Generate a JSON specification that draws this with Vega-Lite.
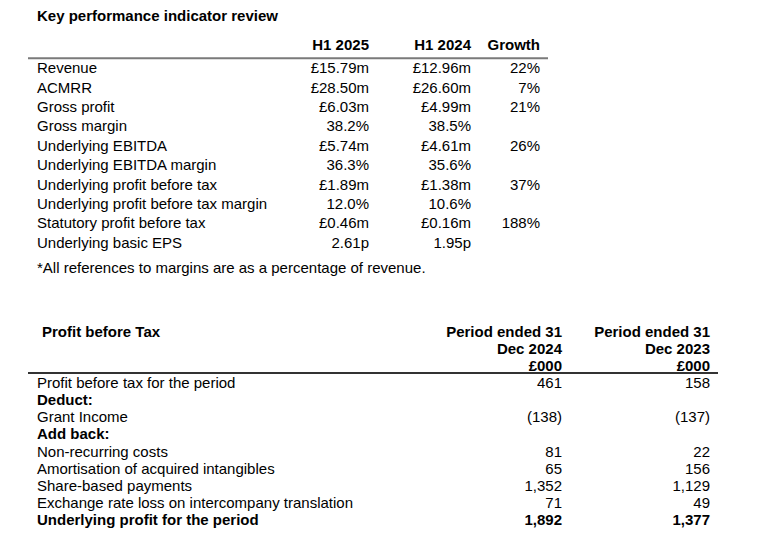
{
  "$schema": "https://vega.github.io/schema/vega-lite/v6.json",
  "padding": 0,
  "spacing": 0,
  "background": "white",
  "config": {"view": {"stroke": null}, "text": {"font": "Liberation Sans", "fontSize": 15, "color": "#000000", "baseline": "middle"}},
  "datasets": {
    "kpi": [
      {"r": -1, "kind": "title", "label": "Key performance indicator review", "h25": "", "h24": "", "growth": ""},
      {"r": 0, "kind": "header", "label": "", "h25": "H1 2025", "h24": "H1 2024", "growth": "Growth"},
      {"r": 1, "kind": "body", "label": "Revenue", "h25": "£15.79m", "h24": "£12.96m", "growth": "22%"},
      {"r": 2, "kind": "body", "label": "ACMRR", "h25": "£28.50m", "h24": "£26.60m", "growth": "7%"},
      {"r": 3, "kind": "body", "label": "Gross profit", "h25": "£6.03m", "h24": "£4.99m", "growth": "21%"},
      {"r": 4, "kind": "body", "label": "Gross margin", "h25": "38.2%", "h24": "38.5%", "growth": ""},
      {"r": 5, "kind": "body", "label": "Underlying EBITDA", "h25": "£5.74m", "h24": "£4.61m", "growth": "26%"},
      {"r": 6, "kind": "body", "label": "Underlying EBITDA margin", "h25": "36.3%", "h24": "35.6%", "growth": ""},
      {"r": 7, "kind": "body", "label": "Underlying profit before tax", "h25": "£1.89m", "h24": "£1.38m", "growth": "37%"},
      {"r": 8, "kind": "body", "label": "Underlying profit before tax margin", "h25": "12.0%", "h24": "10.6%", "growth": ""},
      {"r": 9, "kind": "body", "label": "Statutory profit before tax", "h25": "£0.46m", "h24": "£0.16m", "growth": "188%"},
      {"r": 10, "kind": "body", "label": "Underlying basic EPS", "h25": "2.61p", "h24": "1.95p", "growth": ""},
      {"r": 11, "kind": "note", "label": "*All references to margins are as a percentage of revenue.", "h25": "", "h24": "", "growth": ""}
    ],
    "pbt": [
      {"k": -3, "kind": "header", "label": "Profit before Tax", "d24": "Period ended 31", "d23": "Period ended 31"},
      {"k": -2, "kind": "header", "label": "", "d24": "Dec 2024", "d23": "Dec 2023"},
      {"k": -1, "kind": "header", "label": "", "d24": "£000", "d23": "£000"},
      {"k": 0, "kind": "body", "label": "Profit before tax for the period", "d24": "461", "d23": "158"},
      {"k": 1, "kind": "section", "label": "Deduct:", "d24": "", "d23": ""},
      {"k": 2, "kind": "body", "label": "Grant Income", "d24": "(138)", "d23": "(137)"},
      {"k": 3, "kind": "section", "label": "Add back:", "d24": "", "d23": ""},
      {"k": 4, "kind": "body", "label": "Non-recurring costs", "d24": "81", "d23": "22"},
      {"k": 5, "kind": "body", "label": "Amortisation of acquired intangibles", "d24": "65", "d23": "156"},
      {"k": 6, "kind": "body", "label": "Share-based payments", "d24": "1,352", "d23": "1,129"},
      {"k": 7, "kind": "body", "label": "Exchange rate loss on intercompany translation", "d24": "71", "d23": "49"},
      {"k": 8, "kind": "total", "label": "Underlying profit for the period", "d24": "1,892", "d23": "1,377"}
    ]
  },
  "vconcat": [
    {
      "width": 770,
      "height": 290,
      "data": {"name": "kpi"},
      "encoding": {
        "y": {"field": "r", "type": "quantitative", "axis": null, "scale": {"domain": [-2.5837, 12.3957], "reverse": true, "nice": false, "zero": false}}
      },
      "layer": [
        {
          "transform": [{"filter": "datum.kind === 'header'"}],
          "mark": {"type": "rule", "color": "#7a7a7a", "strokeWidth": 2},
          "encoding": {
            "y": {"datum": 0.42, "type": "quantitative"},
            "x": {"datum": 0, "type": "quantitative", "axis": null, "scale": {"domain": [0, 1, 2, 3, 4, 5], "range": [28, 37, 369, 471, 540, 548], "nice": false, "zero": false}},
            "x2": {"datum": 5}
          }
        },
        {
          "transform": [{"filter": "datum.kind === 'body'"}],
          "mark": {"type": "text", "align": "left", "dy": -1},
          "encoding": {"x": {"datum": 1, "type": "quantitative"}, "text": {"field": "label"}}
        },
        {
          "transform": [{"filter": "datum.kind === 'note'"}],
          "mark": {"type": "text", "align": "left", "dy": 5},
          "encoding": {"x": {"datum": 1, "type": "quantitative"}, "text": {"field": "label"}}
        },
        {
          "transform": [{"filter": "datum.kind === 'title'"}],
          "mark": {"type": "text", "align": "left", "fontWeight": "bold", "dy": -15},
          "encoding": {"x": {"datum": 1, "type": "quantitative"}, "text": {"field": "label"}}
        },
        {
          "transform": [{"filter": "datum.kind === 'body'"}],
          "mark": {"type": "text", "align": "right", "dy": -1},
          "encoding": {"x": {"datum": 2, "type": "quantitative"}, "text": {"field": "h25"}}
        },
        {
          "transform": [{"filter": "datum.kind === 'body'"}],
          "mark": {"type": "text", "align": "right", "dy": -1},
          "encoding": {"x": {"datum": 3, "type": "quantitative"}, "text": {"field": "h24"}}
        },
        {
          "transform": [{"filter": "datum.kind === 'body'"}],
          "mark": {"type": "text", "align": "right", "dy": -1},
          "encoding": {"x": {"datum": 4, "type": "quantitative"}, "text": {"field": "growth"}}
        },
        {
          "transform": [{"filter": "datum.kind === 'header'"}],
          "mark": {"type": "text", "align": "right", "fontWeight": "bold", "dy": -5},
          "encoding": {"x": {"datum": 2, "type": "quantitative"}, "text": {"field": "h25"}}
        },
        {
          "transform": [{"filter": "datum.kind === 'header'"}],
          "mark": {"type": "text", "align": "right", "fontWeight": "bold", "dy": -5},
          "encoding": {"x": {"datum": 3, "type": "quantitative"}, "text": {"field": "h24"}}
        },
        {
          "transform": [{"filter": "datum.kind === 'header'"}],
          "mark": {"type": "text", "align": "right", "fontWeight": "bold", "dy": -5},
          "encoding": {"x": {"datum": 4, "type": "quantitative"}, "text": {"field": "growth"}}
        }
      ]
    },
    {
      "width": 770,
      "height": 250,
      "data": {"name": "pbt"},
      "encoding": {
        "y": {"field": "k", "type": "quantitative", "axis": null, "scale": {"domain": [-5.4307, 9.1679], "reverse": true, "nice": false, "zero": false}}
      },
      "layer": [
        {
          "transform": [{"filter": "datum.k === -1"}],
          "mark": {"type": "rule", "color": "#333333", "strokeWidth": 2},
          "encoding": {
            "y": {"datum": -0.58, "type": "quantitative"},
            "x": {"datum": 0, "type": "quantitative", "axis": null, "scale": {"domain": [0, 1, 2, 3, 4], "range": [28, 37, 562, 710, 718], "nice": false, "zero": false}},
            "x2": {"datum": 4}
          }
        },
        {
          "transform": [{"filter": "datum.kind === 'body'"}],
          "mark": {"type": "text", "align": "left"},
          "encoding": {"x": {"datum": 1, "type": "quantitative"}, "text": {"field": "label"}}
        },
        {
          "transform": [{"filter": "datum.kind === 'section' || datum.kind === 'total'"}],
          "mark": {"type": "text", "align": "left", "fontWeight": "bold"},
          "encoding": {"x": {"datum": 1, "type": "quantitative"}, "text": {"field": "label"}}
        },
        {
          "transform": [{"filter": "datum.kind === 'header'"}],
          "mark": {"type": "text", "align": "left", "fontWeight": "bold", "dx": 5},
          "encoding": {"x": {"datum": 1, "type": "quantitative"}, "text": {"field": "label"}}
        },
        {
          "transform": [{"filter": "datum.kind === 'body'"}],
          "mark": {"type": "text", "align": "right"},
          "encoding": {"x": {"datum": 2, "type": "quantitative"}, "text": {"field": "d24"}}
        },
        {
          "transform": [{"filter": "datum.kind === 'body'"}],
          "mark": {"type": "text", "align": "right"},
          "encoding": {"x": {"datum": 3, "type": "quantitative"}, "text": {"field": "d23"}}
        },
        {
          "transform": [{"filter": "datum.kind === 'header' || datum.kind === 'total'"}],
          "mark": {"type": "text", "align": "right", "fontWeight": "bold"},
          "encoding": {"x": {"datum": 2, "type": "quantitative"}, "text": {"field": "d24"}}
        },
        {
          "transform": [{"filter": "datum.kind === 'header' || datum.kind === 'total'"}],
          "mark": {"type": "text", "align": "right", "fontWeight": "bold"},
          "encoding": {"x": {"datum": 3, "type": "quantitative"}, "text": {"field": "d23"}}
        }
      ]
    }
  ]
}
